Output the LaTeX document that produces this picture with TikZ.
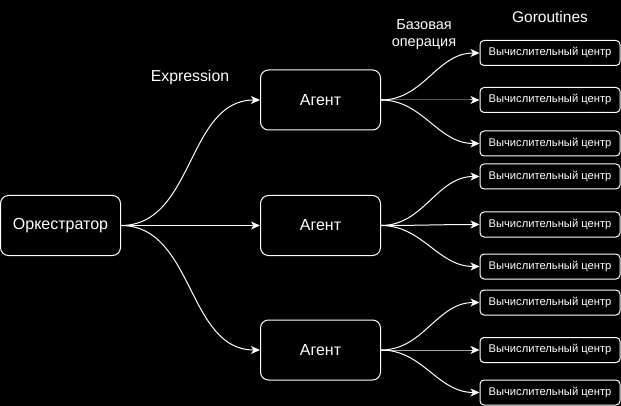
\documentclass[tikz,border=0pt]{standalone}
\usepackage{fontspec}
\setmainfont{Liberation Sans}
\usetikzlibrary{arrows.meta}

\begin{document}
\begin{tikzpicture}[
        x=1pt, y=-1pt,
        every path/.style={line width=1pt},
        bigbox/.style={rectangle, draw=white, fill=black, text=white, minimum width=120pt, minimum height=60pt, rounded corners=8pt, font=\fontsize{16}{18}\selectfont},
        calcbox/.style={rectangle, draw=white, fill=black, text=white, minimum width=140pt, minimum height=25pt, rounded corners=4pt, inner sep=1pt, font=\fontsize{11.2}{13}\selectfont},
        caption/.style={text=white, font=\fontsize{15.8}{18}\selectfont, align=center},
        link/.style={draw=white, -{Stealth[length=9pt,width=8pt,inset=2.5pt]}, line width=1pt}
    ]
        % Background
        \fill[black] (0,0) rectangle (621,406);
        \useasboundingbox (0,0) rectangle (621,406);

        % Orchestrator
        \node[bigbox] (orch) at (60.5,225.5) {Оркестратор};

        % Agents
        \node[bigbox] (agent1) at (320.5,100) {Агент};
        \node[bigbox] (agent2) at (320.5,225.5) {Агент};
        \node[bigbox] (agent3) at (320.5,350) {Агент};

        % Computing centers (goroutines)
        \node[calcbox] (calc11) at (550,53) {Вычислительный центр};
        \node[calcbox] (calc12) at (550,100) {Вычислительный центр};
        \node[calcbox] (calc13) at (550,143.5) {Вычислительный центр};
        \node[calcbox] (calc21) at (550,176.5) {Вычислительный центр};
        \node[calcbox] (calc22) at (550,224.5) {Вычислительный центр};
        \node[calcbox] (calc23) at (550,266.5) {Вычислительный центр};
        \node[calcbox] (calc31) at (550,302.5) {Вычислительный центр};
        \node[calcbox] (calc32) at (550,350) {Вычислительный центр};
        \node[calcbox] (calc33) at (550,392.5) {Вычислительный центр};

        % Orchestrator to agents
        \draw[link] (orch.east) to[out=0, in=180] (agent1.west);
        \draw[link] (orch.east) -- (agent2.west);
        \draw[link] (orch.east) to[out=0, in=180] (agent3.west);

        % Agents to computing centers
        \foreach \a in {1,2,3} {
            \draw[link] (agent\a.east) to[out=0, in=180] (calc\a1.west);
            \draw[link] (agent\a.east) to[out=0, in=180] (calc\a2.west);
            \draw[link] (agent\a.east) to[out=0, in=180] (calc\a3.west);
        }

        % Labels
        \node[caption] (expr) at (190,77) {Expression};
        \node[caption, font=\fontsize{14.5}{17}\selectfont] (baseop) at (424,35) {Базовая\\операция};
        \node[caption, font=\fontsize{15.5}{18}\selectfont] (gorout) at (550,17) {Goroutines};

    \end{tikzpicture}
\end{document}
